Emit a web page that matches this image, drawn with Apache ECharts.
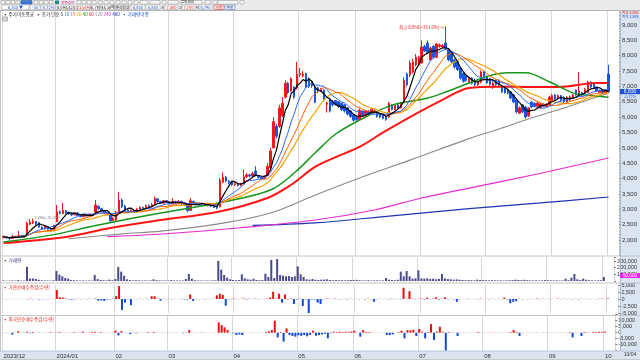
<!DOCTYPE html>
<html><head><meta charset="utf-8">
<script src="https://cdn.jsdelivr.net/npm/echarts@6.0.0/dist/echarts.min.js"></script>
<style>html,body{margin:0;padding:0;background:#fff}#c{width:640px;height:360px}</style>
</head><body><div id="c"></div>
<script>
// ---- calendar ----
const months = ['2023/12','2024/01','02','03','04','05','06','07','08','09','10'];
const monthDays = [18,20,18,22,22,19,22,22,22,19,1];

// ---- daily OHLC ----
const open = [
2080,2110,2080,2050,2120,2090,2140,2100,2150,2520,2560,2600,2560,2420,2360,2440,2350,2310,
2600,2920,2860,2950,2900,2860,2820,2880,2800,2760,2820,2780,2840,2910,3100,3020,2950,2900,2820,2640,
2650,2880,3300,3100,2980,2920,2960,2930,3000,3060,3030,3120,3090,3180,3340,3250,3200,3280,
3220,3180,3250,3200,3260,3180,3140,2960,3260,3180,3200,3150,3170,3120,3130,3090,3060,3080,3880,4050,3920,3880,
3800,3830,3780,3820,4060,4120,4080,4250,4100,4040,4010,4100,4350,5000,5700,5700,6050,6650,7100,6850,6980,6950,
7380,7350,7420,7250,7150,6980,6950,6850,6880,6420,6560,6500,6540,6500,6450,6400,6300,6200,6070,
6000,5920,6200,6060,6200,6100,6160,6140,6100,6050,6000,6000,6400,6250,6400,6300,6490,7400,7370,7470,7700,7720,
7760,8300,8410,7860,8310,7950,8300,8280,8410,8180,8100,7860,7800,7600,7430,7350,7150,7270,7200,7050,7140,7470,
7320,7250,6960,7200,7200,6980,6980,6900,6820,6720,6560,6130,6400,6330,6040,6490,6450,6360,6300,6420,6350,6390,
6550,6720,6600,6700,6650,6500,6560,6620,6880,6690,6800,6780,6800,7140,7100,6980,6800,6880,6760,
7400];
const close = [
2110,2070,2050,2120,2090,2140,2100,2130,2540,2580,2600,2520,2420,2360,2440,2350,2300,2460,
2920,2870,2960,2880,2850,2820,2880,2800,2760,2820,2780,2840,2800,3140,3020,2950,2880,2820,2620,2700,
2900,3300,3080,2960,2900,2960,2920,3000,3060,3020,3120,3080,3150,3350,3250,3200,3280,3220,
3180,3250,3200,3260,3180,3140,2960,3280,3180,3200,3150,3170,3120,3130,3090,3060,3040,3950,4050,3920,3860,3800,
3830,3780,3820,4060,4120,4080,4160,4100,4040,4000,4060,4400,4900,5850,5380,6300,6450,7100,6800,7250,6650,7400,
7420,7400,6980,7000,7020,6480,6850,6900,6560,6460,6200,6400,6420,6350,6250,6200,6100,6020,5900,
5920,6230,6060,6200,6100,6250,6210,6020,6000,5960,5920,6450,6250,6380,6300,6460,7200,7050,7760,7800,7950,7950,
8280,8150,8100,8250,7950,8380,8350,8330,8250,7860,7800,7630,7550,7270,7170,7200,7250,7100,7050,7150,7470,7320,
7120,7060,7110,7060,7050,6820,6800,6780,6620,6490,6170,6300,6170,6000,6300,6330,6350,6460,6420,6350,6420,6650,
6700,6600,6700,6550,6500,6650,6660,6720,6720,6850,6720,6900,7140,6980,6950,6850,6850,6780,6880,
6830];
const high = [
2150,2130,2100,2160,2140,2300,2160,2170,2600,2680,2700,2620,2590,2450,2480,2460,2380,2500,
3140,2960,3200,2980,2920,2880,2900,2900,2830,2850,2840,2860,2860,3300,3120,3050,2980,2920,2840,2760,
2950,3570,3350,3150,3000,3000,3000,3050,3100,3080,3150,3160,3200,3420,3360,3280,3300,3300,
3250,3370,3280,3300,3280,3200,3160,3370,3280,3240,3220,3200,3190,3160,3150,3110,3090,4020,4200,4080,3950,3900,
3870,3850,3860,4300,4180,4160,4220,4400,4120,4060,4100,4500,5000,6000,5780,6400,6650,7200,7150,7300,7000,7800,
7600,7500,7450,7300,7200,7000,7000,6950,6900,6500,6580,6550,6560,6520,6480,6420,6330,6230,6100,
6050,6280,6220,6230,6230,6300,6250,6160,6120,6070,6030,6500,6420,6420,6420,6500,7300,7450,7850,7900,8050,8000,
8500,8350,8500,8300,8330,8420,8400,8380,8950,8220,8150,7900,7850,7650,7480,7380,7300,7300,7250,7200,7520,7500,
7350,7280,7160,7230,7230,7000,7000,6930,6850,6750,6600,6350,6430,6360,6330,6520,6480,6500,6460,6450,6450,6700,
6750,6760,6740,6720,6680,6680,6700,6750,6900,7470,6820,6950,7180,7160,7120,7000,6900,6900,6920,
7700];
const low = [
2050,2040,1985,2030,2060,2070,2080,2090,2140,2480,2520,2480,2400,2330,2340,2320,2280,2300,
2580,2840,2840,2850,2820,2780,2800,2780,2740,2740,2760,2770,2780,2900,2990,2930,2860,2800,2600,2600,
2620,2860,3050,2940,2870,2890,2900,2910,2980,3000,3010,3060,3070,3160,3220,3180,3180,3200,
3150,3160,3170,3180,3150,3100,2900,2950,3150,3150,3120,3120,3100,3090,3070,3040,3000,3060,3850,3880,3820,3760,
3760,3740,3750,3800,4020,4040,4060,4080,4000,3960,3990,4080,4300,4980,5300,5650,6000,6600,6750,6820,6600,6900,
7300,7300,6950,6950,6950,6450,6780,6820,6520,6150,6150,6350,6380,6300,6200,6150,6050,5980,5850,
5880,5900,6020,6030,6060,6080,6120,5980,5960,5920,5880,5980,6220,6230,6260,6280,6450,7000,7300,7420,7650,7680,
7740,8120,8050,7820,7900,7920,8260,8250,8200,7820,7760,7580,7500,7220,7120,7150,7120,7060,7000,7020,7100,7280,
7080,7020,6920,7020,7000,6780,6760,6740,6580,6450,6120,6100,6130,5950,6000,6300,6320,6330,6280,6320,6320,6360,
6520,6560,6580,6520,6460,6480,6530,6600,6700,6660,6690,6750,6780,6950,6920,6820,6780,6760,6740,
6790];

// ---- volume (shares) ----
const volume = [
8000,6000,5000,9000,6000,14000,7000,8000,213000,35000,38000,30000,18000,10000,9000,8000,7000,12000,
150000,95000,70000,45000,35000,15000,12000,10000,8000,9000,7000,8000,7000,90000,30000,15000,12000,10000,20000,12000,
30000,210000,140000,80000,25000,15000,10000,12000,10000,8000,9000,8000,10000,25000,12000,9000,8000,8000,
8000,14000,9000,8000,7000,8000,30000,105000,35000,12000,9000,8000,7000,8000,7000,9000,10000,300000,170000,90000,50000,25000,
15000,12000,14000,100000,40000,25000,20000,35000,15000,12000,14000,110000,60000,315000,45000,330000,90000,80000,70000,75000,60000,70000,
220000,100000,60000,25000,20000,30000,18000,15000,20000,22000,25000,15000,12000,14000,12000,13000,10000,12000,15000,
14000,18000,12000,10000,9000,11000,8000,9000,10000,8000,10000,45000,20000,15000,12000,18000,140000,70000,150000,70000,35000,40000,
160000,40000,35000,40000,30000,35000,25000,30000,105000,40000,30000,25000,20000,25000,20000,15000,12000,14000,12000,10000,20000,15000,
14000,12000,10000,12000,10000,9000,10000,8000,10000,12000,14000,20000,15000,12000,18000,12000,10000,9000,10000,8000,9000,14000,
12000,10000,9000,10000,8000,9000,35000,12000,50000,105000,25000,14000,35000,20000,12000,10000,9000,10000,12000,
60000];

// ---- institution net buying change (shares) ----
const instNet = [
100,-150,80,120,-100,150,-80,100,-200,300,-150,100,-300,-200,-100,-150,150,-100,
3200,600,500,400,-300,-400,-300,200,-200,150,-150,200,-100,400,-600,-500,-700,-400,-300,200,
1000,4600,-3900,-1300,-200,-2200,100,-150,200,-100,150,-200,1000,1000,300,-600,200,-200,
100,-200,150,-100,200,-300,-400,1600,-700,200,-150,100,-200,150,-100,200,1300,1900,1500,-2400,-300,200,
300,-200,150,400,-300,200,-100,300,-200,100,-150,300,500,2600,300,1900,-1300,1600,-300,400,-1800,-300,
200,-2500,-300,-5500,-400,-300,-1300,-1800,-200,300,200,-150,300,-100,-200,150,-300,200,-100,
150,-200,100,-300,200,-150,-1000,-200,200,-100,150,-200,300,-150,100,-200,4000,200,2800,300,-200,200,
400,-300,500,-200,300,600,-400,300,600,-200,150,-300,-1000,-200,100,-150,200,-100,150,-200,300,-100,
100,-200,150,-100,200,-150,500,-300,-1500,-1000,-800,200,-150,100,-200,150,-100,300,-200,150,-100,200,
-150,100,300,-100,200,-150,100,-200,150,-300,200,-100,150,-200,100,-150,200,300,-100,
400];

// ---- foreigner net buying change (shares) ----
const foreignNet = [
300,-400,200,-1600,300,1200,-300,400,800,-500,600,-300,400,-200,300,-400,500,-300,
400,600,-300,400,-200,300,500,-300,400,800,-200,300,600,700,-300,500,-400,300,-200,400,
1700,-2300,1300,-400,-300,-1200,300,-500,400,-300,200,500,-300,600,-200,300,-400,200,
300,-200,400,-300,200,-500,300,2200,-400,300,-200,400,-300,200,-100,300,-200,8600,6400,4500,2200,-300,
-500,-1900,-1500,-2000,300,-200,400,-300,200,-200,300,600,1200,2200,10000,-3900,600,-7500,3600,-2000,-2800,-3300,
-2200,-2600,-2000,-3000,-1800,1700,-2500,-2000,-1500,-1000,-4700,-500,800,500,900,600,800,700,1000,
1700,400,-3300,2200,600,500,400,300,-300,200,-400,-1900,-2000,-1500,300,500,1700,-4700,2200,2000,2400,-2800,
3100,800,-4700,600,7200,-6100,900,5000,800,-15800,500,-400,300,-2800,400,300,-200,400,300,-300,500,300,
300,-200,400,300,-300,200,400,-200,300,500,2200,600,-2800,-400,300,-300,-200,400,-300,200,-400,300,
-300,400,-200,300,-400,200,-300,500,-3900,400,300,-2800,500,400,-300,600,500,800,700,
900];

// ---- long moving averages: [day index, value] ----
const ma40Pts = [[0,1935],[16,2160],[32,2490],[53,2880],[74,3240],[90,3630],[98,4180],[105,4830],[112,5450],[120,5900],[131,6390],[143,6620],[150,6850],[157,7110],[164,7350],[170,7440],[176,7440],[184,7150],[192,6790],[198,6700],[204,6650]];
const ma60Pts = [[0,1900],[21,2100],[36,2390],[53,2650],[72,2910],[89,3370],[97,3800],[105,4380],[112,4700],[120,5030],[128,5500],[137,6000],[148,6560],[157,6950],[166,6990],[177,6980],[187,6980],[200,7110],[204,7110]];
const ma120Pts = [[22,2040],[40,2200],[53,2290],[74,2550],[90,2880],[104,3420],[120,4020],[137,4600],[157,5300],[166,5580],[178,5970],[189,6300],[204,6785]];
const ma240Pts = [[35,2110],[52,2190],[80,2400],[105,2650],[125,2980],[141,3370],[157,3690],[180,4150],[204,4670]];
const ma480Pts = [[84,2480],[105,2560],[130,2780],[157,3020],[180,3200],[204,3400]];

// ---- axis ticks ----
const priceAxis = {min:1500, max:9486, step:500, first:2000, last:9000};
const volAxis = {min:0, max:360000, step:100000};
const instAxis = {min:-5000, max:5000, step:2500};
const foreignAxis = {min:-15000, max:15000, step:5000};

// ===================================================================
const FONT = '"Liberation Sans", Arial, sans-serif';
const KFONT = '"Noto Sans CJK KR", "Noto Sans", sans-serif';
const fmt = v => Math.round(v).toLocaleString('en-US');

const cats = []; const monthStart = new Set();
months.forEach((m, mi) => { for (let d = 0; d < monthDays[mi]; d++) { if (d === 0) monthStart.add(cats.length); cats.push(m + '#' + d); } });
for (let k = 0; k < 3; k++) cats.push('#pad' + k);

function sma(n) {
  return close.map((_, i) => { const s = Math.max(0, i - n + 1); let t = 0; for (let k = s; k <= i; k++) t += close[k]; return Math.round(t / (i - s + 1)); });
}

const UP = '#f01818', DOWN = '#1a55dc';
const chart = echarts.init(document.getElementById('c'), null, {renderer: 'canvas', width: 640, height: 360});

const grids = [
  {left: 2, right: 20, top: 10, height: 245.4},
  {left: 2, right: 20, top: 257, height: 24},
  {left: 2, right: 20, top: 285, height: 28},
  {left: 2, right: 20, top: 314.7, height: 36}
];
const xAxes = grids.map((g, gi) => ({
  type: 'category', gridIndex: gi, data: cats, boundaryGap: true,
  axisLine: {show: false}, axisTick: {show: false},
  axisLabel: gi === 3 ? {show: true, interval: (i) => monthStart.has(i), formatter: v => v.startsWith('#') ? '' : v.split('#')[0],
    fontSize: 6, color: '#333', align: 'left', margin: 2.5, fontFamily: FONT} : {show: false},
  splitLine: {show: true, interval: (i) => monthStart.has(i), lineStyle: {color: '#d6d6d6', width: 1}}
}));
const yBase = () => ({position: 'right', axisLine: {show: false}, splitLine: {show: false},
  axisTick: {show: true, length: 2, lineStyle: {color: '#777'}}});
const yAxes = [
  Object.assign(yBase(), {gridIndex: 0, min: priceAxis.min, max: priceAxis.max, interval: priceAxis.step,
    minorTick: {show: true, splitNumber: 5, length: 1, lineStyle: {color: '#9aa'}},
    axisLabel: {fontSize: 6, color: '#333', margin: 3, fontFamily: FONT,
      formatter: v => (v >= priceAxis.first && v <= priceAxis.last && v % priceAxis.step === 0) ? fmt(v) : ''}}),
  Object.assign(yBase(), {gridIndex: 1, min: volAxis.min, max: volAxis.max, interval: volAxis.step,
    axisLabel: {fontSize: 5.5, color: '#333', margin: 3, fontFamily: FONT, formatter: v => (v > 0 && v % volAxis.step === 0) ? fmt(v) : ''}}),
  Object.assign(yBase(), {gridIndex: 2, min: instAxis.min, max: instAxis.max, interval: instAxis.step,
    axisLabel: {fontSize: 5.5, color: '#333', margin: 3, fontFamily: FONT, formatter: v => fmt(v)}}),
  Object.assign(yBase(), {gridIndex: 3, min: foreignAxis.min, max: foreignAxis.max, interval: foreignAxis.step,
    axisLabel: {fontSize: 5.5, color: '#333', margin: 3, fontFamily: FONT, formatter: v => Math.abs(v) >= foreignAxis.max ? '' : fmt(v)}})
];

const lineS = (name, data, color, width, smooth) => ({
  name, type: 'line', xAxisIndex: 0, yAxisIndex: 0, data, showSymbol: false, symbol: 'none',
  smooth: smooth ? 0.35 : false, z: 3, lineStyle: {color, width}, silent: true
});
const sign = (arr) => arr.map(v => ({value: v, itemStyle: {color: v >= 0 ? (v < 500 ? '#f58a8a' : '#e81010') : (v > -500 ? '#7ea6ee' : '#1248d8')}}));

const series = [
  {type: 'candlestick', xAxisIndex: 0, yAxisIndex: 0, barWidth: 2, z: 2,
   data: open.map((o, i) => [o, close[i], low[i], high[i]]),
   itemStyle: {color: UP, color0: DOWN, borderColor: UP, borderColor0: DOWN, borderWidth: 1}},
  lineS('ma480', ma480Pts, '#1f33b0', 1.2, true),
  lineS('ma240', ma240Pts, '#e42ad2', 1.1, true),
  lineS('ma120', ma120Pts, '#8a8a8a', 1.1, true),
  lineS('ma60', ma60Pts, '#ff1414', 2, true),
  lineS('ma40', ma40Pts, '#16961a', 1.5, true),
  lineS('ma20', sma(20), '#f5a400', 1.2, false),
  lineS('ma15', sma(15), '#ff5e00', 1, false),
  lineS('ma10', sma(10), '#2a66ff', 1, false),
  lineS('ma5', sma(5), '#000000', 1.2, false),
  {type: 'bar', xAxisIndex: 1, yAxisIndex: 1, data: volume, barWidth: 2, itemStyle: {color: '#4a4a8c'}},
  {type: 'bar', xAxisIndex: 2, yAxisIndex: 2, data: sign(instNet), barWidth: 2},
  {type: 'bar', xAxisIndex: 3, yAxisIndex: 3, data: sign(foreignNet), barWidth: 2}
];

// ---- static decoration ----
const g = [];
const rect = (x, y, w, h, fill, stroke, z) => g.push({type: 'rect', shape: {x, y, width: w, height: h}, style: {fill, stroke: stroke || null, lineWidth: stroke ? 0.6 : 0}, z: z === undefined ? -5 : z, silent: true});
const hline = (y, x1, x2, c) => g.push({type: 'line', shape: {x1, y1: y, x2, y2: y}, style: {stroke: c, lineWidth: 1}, z: 5, silent: true});
const txt = (x, y, t, fill, size, align, font, z) => g.push({type: 'text', x, y, style: {text: t, fill, fontSize: size || 5, fontFamily: font || KFONT, align: align || 'left', verticalAlign: 'middle'}, z: z === undefined ? 20 : z, silent: true});

rect(0, 0, 640, 10.5, '#ebebeb');
hline(10.5, 0, 640, '#b5b5b5');
// toolbar row 1 (icons)
[[1,4],[6,4],[11,4],[16,4]].forEach(([x, w]) => rect(x, 0.5, w, 3.6, '#f6f6f6', '#9a9a9a', 10));
rect(21, 0.5, 11, 3.6, '#3c78d8', '#2a5aa8', 10);
[[34,4],[39,4],[44,4],[49,4]].forEach(([x, w]) => rect(x, 0.5, w, 3.6, '#f6f6f6', '#9a9a9a', 10));
rect(55, 0.5, 4, 3.6, '#1f8c88', null, 10);
txt(61, 2.4, '종목검색', '#d0308a', 3.6);
[[77,4],[82,4],[87,4],[92,4],[98,4],[104,4],[110,4],[116,4],[122,4],[128,4],[134,4],[140,8],[150,10],[162,4],[168,10],[180,22],[205,6],[213,4],[218,20],[240,4]].forEach(([x, w]) => rect(x, 0.5, w, 3.6, '#f6f6f6', '#a0a0a0', 10));
txt(181, 2.4, '228,800', '#333', 3.6, 'left', FONT);
// toolbar row 2 (quote boxes)
const qb = [[2,27,'6,830 ▼','#1a4fd0'],[30,10,'-50','#1a4fd0'],[41,14,'-0.72%','#1a4fd0'],[56,20,'6,094,425','#222'],[77,13,'21.54%','#e01818'],[91,9,'6.7M','#222'],[101,14,'44.36배','#222'],[131,14,'6,850','#1a4fd0'],[146,14,'6,840','#1a4fd0'],[165,13,'7,400','#e01818'],[182,13,'7,700','#e01818'],[199,13,'6,790','#1a4fd0']];
qb.forEach(([x, w, t, c]) => { rect(x, 5, w, 4.6, '#ffffff', '#a8a8a8', 10); txt(x + w / 2, 7.4, t, c, 4, 'center', KFONT); });
rect(116, 5, 13, 4.6, '#e4e4e4', '#a0a0a0', 10); txt(122.5, 7.4, '주식잔고', '#333', 3.6, 'center');
txt(161, 7.4, '시', '#333', 3.8); txt(178.5, 7.4, '고', '#333', 3.8); txt(195.5, 7.4, '저', '#333', 3.8);
rect(214, 5, 10, 4.6, '#ffeaea', '#d04040', 10); txt(219, 7.4, '일봉', '#c02020', 3.6, 'center');
rect(225, 5, 10, 4.6, '#eef2fa', '#6080c0', 10); txt(230, 7.4, '주봉', '#2040a0', 3.6, 'center');

// right scale strip & bottom date strip
rect(620, 11, 20, 340, '#dbe5f1');
g.push({type: 'line', shape: {x1: 620.5, y1: 11, x2: 620.5, y2: 351}, style: {stroke: '#a8bcd6', lineWidth: 1}, z: 5, silent: true});
rect(0, 351, 640, 8, '#dbe5f1');
rect(0, 359, 640, 1, '#c8c8c8');
rect(0, 11, 1, 340, '#c4c4c4', null, 6);
hline(256, 0, 640, '#c2c2c2');
hline(283, 0, 640, '#c2c2c2');
hline(315.5, 0, 640, '#c2c2c2');
hline(351, 0, 640, '#b8c6d8');
txt(630, 355, '10/04', '#333', 5, 'center', FONT);
txt(622, 13, '최고 8,950', '#e01818', 3.6, 'left');
txt(622, 16.5, '최저 1,985', '#1a4fd0', 3.6, 'left');

// legend row
g.push({type: 'text', x: 3, y: 13.8, z: 20, silent: true, style: {
  text: '{d|▪ 주가이동평균  ▪ 종가 단순 5} {b|10} {o|15} {y|20} {gr|40} {r|60} {k|120} {m|240} {n|480}  {v|▪ 거래량이평}',
  fontSize: 4.6, fontFamily: KFONT, verticalAlign: 'middle',
  rich: {d: {fill: '#222'}, b: {fill: '#2a66ff'}, o: {fill: '#ff5e00'}, y: {fill: '#e09a00'}, gr: {fill: '#16961a'}, r: {fill: '#ff1414'}, k: {fill: '#808080'}, m: {fill: '#e42ad2'}, n: {fill: '#1f33b0'}, v: {fill: '#1a4fd0'}}}});
rect(2.5, 17, 5, 4, '#d8d8d8', '#8a8a8a', 10);
// panel titles
txt(3, 259.8, '▪ 거래량', '#36367e', 4.6);
txt(3, 287.5, '▪ 기관순매수증감(수량)', '#e02020', 4.6);
txt(3, 318.8, '▪ 외국인순매수증감(수량)', '#e02020', 4.6);
txt(47, 217.5, '2,680(+35.0%)', '#8a8a8a', 3.8, 'center', FONT);

chart.setOption({
  animation: false, backgroundColor: '#ffffff',
  textStyle: {fontFamily: FONT},
  grid: grids, xAxis: xAxes, yAxis: yAxes, series: series, graphic: g
});

// ---- dynamic markers positioned through the axes ----
const last = close.length - 1;
const [, pY] = chart.convertToPixel({gridIndex: 0}, [last, close[last]]);
const [, vY] = chart.convertToPixel({gridIndex: 1}, [last, volume[last]]);
const hiIdx = high.indexOf(Math.max(...high));
const [hX, hY] = chart.convertToPixel({gridIndex: 0}, [hiIdx, high[hiIdx]]);
const g2 = g.slice();
g2.push({type: 'rect', shape: {x: 620, y: pY - 2.6, width: 20, height: 5.2}, style: {fill: '#1f4fd6'}, z: 30, silent: true});
g2.push({type: 'text', x: 630, y: pY, style: {text: fmt(close[last]), fill: '#fff', fontSize: 5, fontFamily: FONT, align: 'center', verticalAlign: 'middle'}, z: 31, silent: true});
g2.push({type: 'text', x: 630, y: pY + 5, style: {text: '-0.72%', fill: '#1f4fd6', fontSize: 3.8, fontFamily: FONT, align: 'center', verticalAlign: 'middle'}, z: 31, silent: true});
g2.push({type: 'rect', shape: {x: 620, y: vY - 4, width: 20, height: 5}, style: {fill: '#f020f0'}, z: 30, silent: true});
g2.push({type: 'text', x: 630, y: vY - 1.5, style: {text: fmt(volume[last]), fill: '#fff', fontSize: 4.6, fontFamily: FONT, align: 'center', verticalAlign: 'middle'}, z: 31, silent: true});
g2.push({type: 'text', x: hX - 1.5, y: hY + 1, style: {text: '최고 8,950(+351.0%)→', fill: '#ee2020', fontSize: 4.4, fontFamily: KFONT, align: 'right', verticalAlign: 'middle'}, z: 31, silent: true});
chart.setOption({graphic: g2});
</script>
</body></html>
